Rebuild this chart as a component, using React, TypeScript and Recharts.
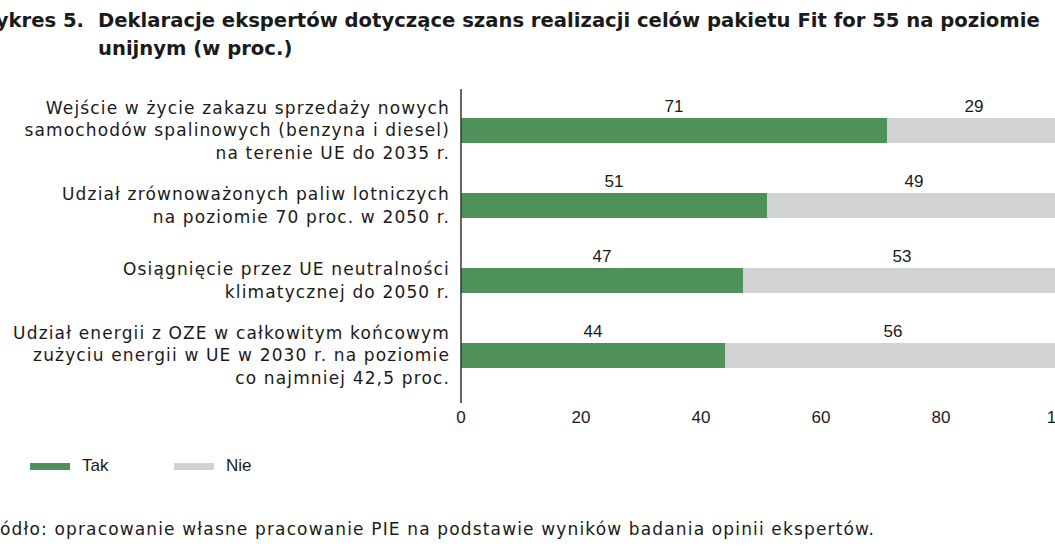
import React from "react";
import { BarChart, Bar, XAxis, YAxis, LabelList } from "recharts";

const categories = [
  "Wejście w życie zakazu sprzedaży nowych\nsamochodów spalinowych (benzyna i diesel)\nna terenie UE do 2035 r.",
  "Udział zrównoważonych paliw lotniczych\nna poziomie 70 proc. w 2050 r.",
  "Osiągnięcie przez UE neutralności\nklimatycznej do 2050 r.",
  "Udział energii z OZE w całkowitym końcowym\nzużyciu energii w UE w 2030 r. na poziomie\nco najmniej 42,5 proc.",
];
const takValues = [71, 51, 47, 44];
const nieValues = [29, 49, 53, 56];
const xTicks = [0, 20, 40, 60, 80, 100];
const seriesNames = ["Tak", "Nie"];
const seriesColors = ["#4E9159", "#D1D2D4"];

const titleLines = [
  "Deklaracje ekspertów dotyczące szans realizacji celów pakietu Fit for 55 na poziomie",
  "unijnym (w proc.)",
];
const titlePrefix = "Wykres 5.";
const sourceText = "Źródło: opracowanie własne pracowanie PIE na podstawie wyników badania opinii ekspertów.";

const data = categories.map((c, i) => ({ name: c, tak: takValues[i], nie: nieValues[i] }));

const LABEL_FONT = "'DejaVu Sans', sans-serif";
const NUM_FONT = "'Liberation Sans', Arial, sans-serif";

const CategoryTick = (props: any) => {
  const { x, y, payload } = props;
  const lines = String(payload.value).split("\n");
  const lh = 22.5;
  const start = y - ((lines.length - 1) * lh) / 2;
  return (
    <g>
      {lines.map((l, i) => (
        <text
          key={i}
          x={x - 3}
          y={start + i * lh}
          dy="0.35em"
          textAnchor="end"
          fontFamily={LABEL_FONT}
          fontSize={17}
          letterSpacing={1.15}
          fill="#1a1a1a"
        >
          {l}
        </text>
      ))}
    </g>
  );
};

export default function App() {
  return (
    <div
      style={{
        position: "absolute",
        left: 0,
        top: 0,
        width: 1055,
        height: 555,
        overflow: "hidden",
        background: "#fff",
      }}
    >
      {/* Title */}
      <div
        style={{
          position: "absolute",
          top: 7,
          left: 0,
          width: 1055,
          height: 60,
          fontFamily: "'DejaVu Sans', sans-serif",
          fontWeight: 700,
          fontSize: 19.6,
          lineHeight: "28px",
          color: "#1a1a1a",
          whiteSpace: "nowrap",
        }}
      >
        <div style={{ position: "absolute", right: 1055 - 84, top: 0, width: 300, textAlign: "right" }}>
          {titlePrefix}
        </div>
        <div style={{ position: "absolute", left: 98, top: 0 }}>
          {titleLines.map((l, i) => (
            <div key={i}>{l}</div>
          ))}
        </div>
      </div>

      <div style={{ position: "absolute", left: 0, top: 0 }}>
        <BarChart
          width={1080}
          height={555}
          data={data}
          layout="vertical"
          margin={{ top: 89, right: 19, bottom: 122, left: 0 }}
        >
          <XAxis
            type="number"
            domain={[0, 100]}
            ticks={xTicks}
            axisLine={false}
            tickLine={false}
            height={30}
            interval={0}
            tick={{ fontFamily: NUM_FONT, fontSize: 17, fill: "#1a1a1a" }}
          />
          <YAxis
            type="category"
            dataKey="name"
            width={461}
            tickLine={false}
            axisLine={{ stroke: "#333", strokeWidth: 1.5 }}
            padding={{ top: 4, bottom: 10 }}
            tick={<CategoryTick />}
            interval={0}
          />
          <Bar dataKey="tak" name={seriesNames[0]} stackId="a" fill={seriesColors[0]} barSize={25} isAnimationActive={false}>
            <LabelList
              dataKey="tak"
              position="top"
              offset={6}
              style={{ fontFamily: NUM_FONT, fontSize: 17, fill: "#1a1a1a" }}
            />
          </Bar>
          <Bar dataKey="nie" name={seriesNames[1]} stackId="a" fill={seriesColors[1]} barSize={25} isAnimationActive={false}>
            <LabelList
              dataKey="nie"
              position="top"
              offset={6}
              style={{ fontFamily: NUM_FONT, fontSize: 17, fill: "#1a1a1a" }}
            />
          </Bar>
        </BarChart>
      </div>

      {/* Legend */}
      {seriesNames.map((n, i) => (
        <div
          key={n}
          style={{
            position: "absolute",
            left: 30 + i * 144,
            top: 455,
            height: 22,
            display: "flex",
            alignItems: "center",
            fontFamily: NUM_FONT,
            fontSize: 17,
            color: "#1a1a1a",
          }}
        >
          <span style={{ display: "inline-block", width: 40, height: 7, background: seriesColors[i], marginRight: 12 }} />
          <span>{n}</span>
        </div>
      ))}

      {/* Source */}
      <div
        style={{
          position: "absolute",
          left: 0,
          top: 517,
          fontFamily: LABEL_FONT,
          fontSize: 17,
          letterSpacing: 1.15,
          lineHeight: "24px",
          color: "#1a1a1a",
          whiteSpace: "nowrap",
        }}
      >
        <span style={{ position: "absolute", right: "100%", top: 0 }}>{sourceText.slice(0, 2)}</span>
        <span>{sourceText.slice(2)}</span>
      </div>
    </div>
  );
}
